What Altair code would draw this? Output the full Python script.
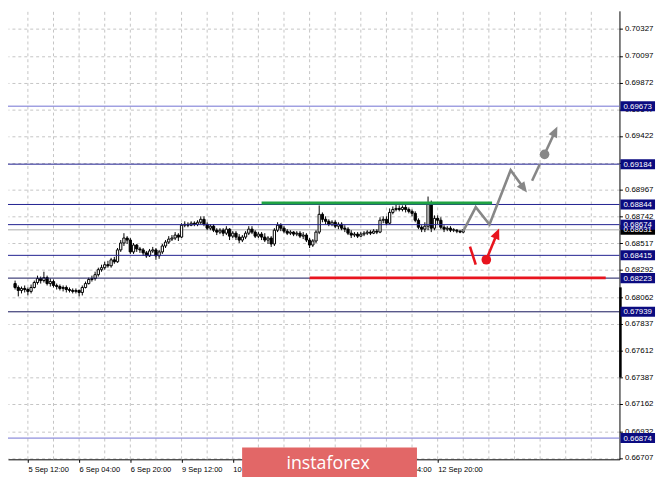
import json
import math
import altair as alt
import pandas as pd

# ---------------- data (AUD/USD H1, bar index = hours relative to 12 Sep 20:00) ----------------
bar_idx = list(range(-132, 9))

opens = [
    0.68177, 0.68144, 0.68119, 0.68136, 0.68127, 0.68111, 0.68144, 0.68186, 0.68219, 0.68202,
    0.68227, 0.68177, 0.68194, 0.68161, 0.68152, 0.68136, 0.68144, 0.68127, 0.68119, 0.68111,
    0.68119, 0.68102, 0.68144, 0.68177, 0.68211, 0.68219, 0.68252, 0.68294, 0.68311, 0.68336,
    0.68327, 0.68377, 0.68361, 0.68461, 0.68519, 0.68561, 0.68544, 0.68444, 0.68502, 0.68469,
    0.68461, 0.68436, 0.68411, 0.68452, 0.68461, 0.68411, 0.68444, 0.68494, 0.68527, 0.68552,
    0.68561, 0.68586, 0.68569, 0.68669, 0.68677, 0.68669, 0.68686, 0.68677, 0.68694, 0.68719,
    0.68677, 0.68644, 0.68661, 0.68627, 0.68611, 0.68627, 0.68602, 0.68636, 0.68577, 0.68602,
    0.68569, 0.68544, 0.68569, 0.68602, 0.68636, 0.68611, 0.68577, 0.68594, 0.68569, 0.68544,
    0.68561, 0.68511, 0.68627, 0.68669, 0.68644, 0.68619, 0.68602, 0.68611, 0.68594, 0.68602,
    0.68577, 0.68586, 0.68544, 0.68502, 0.68536, 0.68611, 0.68761, 0.68719, 0.68702, 0.68677,
    0.68694, 0.68661, 0.68677, 0.68644, 0.68636, 0.68602, 0.68586, 0.68594, 0.68577, 0.68594,
    0.68602, 0.68611, 0.68602, 0.68619, 0.68611, 0.68711, 0.68719, 0.68686, 0.68777, 0.68802,
    0.68811, 0.68802, 0.68819, 0.68802, 0.68786, 0.68769, 0.68711, 0.68652, 0.68636, 0.68661,
    0.68852, 0.68644, 0.68727, 0.68711, 0.68652, 0.68636, 0.68644, 0.68627, 0.68627, 0.68619,
    0.68611,
]
highs = [
    0.68202, 0.68161, 0.68152, 0.68161, 0.68144, 0.68169, 0.68202, 0.68244, 0.68236, 0.68277,
    0.68244, 0.68219, 0.68211, 0.68177, 0.68169, 0.68161, 0.68161, 0.68144, 0.68136, 0.68136,
    0.68127, 0.68161, 0.68194, 0.68227, 0.68244, 0.68277, 0.68311, 0.68336, 0.68361, 0.68369,
    0.68394, 0.68402, 0.68477, 0.68544, 0.68602, 0.68577, 0.68561, 0.68519, 0.68511, 0.68486,
    0.68477, 0.68452, 0.68469, 0.68486, 0.68477, 0.68461, 0.68511, 0.68544, 0.68577, 0.68586,
    0.68611, 0.68602, 0.68686, 0.68702, 0.68694, 0.68702, 0.68702, 0.68711, 0.68744, 0.68744,
    0.68694, 0.68677, 0.68677, 0.68644, 0.68644, 0.68644, 0.68661, 0.68644, 0.68619, 0.68619,
    0.68594, 0.68586, 0.68619, 0.68661, 0.68661, 0.68627, 0.68611, 0.68611, 0.68602, 0.68577,
    0.68577, 0.68644, 0.68694, 0.68686, 0.68661, 0.68636, 0.68627, 0.68619, 0.68619, 0.68619,
    0.68611, 0.68602, 0.68561, 0.68552, 0.68627, 0.68836, 0.68777, 0.68744, 0.68719, 0.68711,
    0.68711, 0.68694, 0.68694, 0.68669, 0.68652, 0.68627, 0.68611, 0.68611, 0.68611, 0.68619,
    0.68627, 0.68627, 0.68636, 0.68636, 0.68736, 0.68744, 0.68744, 0.68811, 0.68827, 0.68844,
    0.68836, 0.68836, 0.68844, 0.68819, 0.68802, 0.68786, 0.68727, 0.68669, 0.68694, 0.68911,
    0.68877, 0.68752, 0.68752, 0.68736, 0.68669, 0.68661, 0.68661, 0.68644, 0.68636, 0.68627,
    0.68636,
]
lows = [
    0.68127, 0.68069, 0.68094, 0.68102, 0.68077, 0.68094, 0.68136, 0.68169, 0.68177, 0.68186,
    0.68161, 0.68152, 0.68144, 0.68127, 0.68119, 0.68111, 0.68102, 0.68102, 0.68094, 0.68094,
    0.68069, 0.68077, 0.68136, 0.68169, 0.68194, 0.68202, 0.68236, 0.68277, 0.68294, 0.68311,
    0.68311, 0.68344, 0.68352, 0.68444, 0.68494, 0.68511, 0.68427, 0.68427, 0.68444, 0.68436,
    0.68411, 0.68394, 0.68402, 0.68436, 0.68377, 0.68386, 0.68427, 0.68477, 0.68511, 0.68536,
    0.68544, 0.68536, 0.68561, 0.68652, 0.68652, 0.68661, 0.68661, 0.68661, 0.68677, 0.68661,
    0.68627, 0.68627, 0.68611, 0.68586, 0.68594, 0.68577, 0.68586, 0.68544, 0.68561, 0.68544,
    0.68519, 0.68527, 0.68552, 0.68586, 0.68594, 0.68561, 0.68561, 0.68544, 0.68527, 0.68511,
    0.68486, 0.68494, 0.68611, 0.68619, 0.68602, 0.68586, 0.68586, 0.68577, 0.68577, 0.68561,
    0.68552, 0.68527, 0.68477, 0.68486, 0.68519, 0.68594, 0.68694, 0.68677, 0.68661, 0.68661,
    0.68644, 0.68636, 0.68627, 0.68611, 0.68586, 0.68561, 0.68569, 0.68561, 0.68569, 0.68577,
    0.68586, 0.68586, 0.68594, 0.68594, 0.68602, 0.68686, 0.68669, 0.68677, 0.68761, 0.68786,
    0.68786, 0.68786, 0.68777, 0.68769, 0.68744, 0.68694, 0.68636, 0.68611, 0.68611, 0.68627,
    0.68611, 0.68627, 0.68677, 0.68636, 0.68611, 0.68619, 0.68611, 0.68611, 0.68602, 0.68602,
    0.68602,
]
closes = [
    0.68144, 0.68119, 0.68136, 0.68127, 0.68111, 0.68144, 0.68186, 0.68219, 0.68202, 0.68227,
    0.68177, 0.68194, 0.68161, 0.68152, 0.68136, 0.68144, 0.68127, 0.68119, 0.68111, 0.68119,
    0.68102, 0.68144, 0.68177, 0.68211, 0.68219, 0.68252, 0.68294, 0.68311, 0.68336, 0.68327,
    0.68377, 0.68361, 0.68461, 0.68519, 0.68561, 0.68544, 0.68444, 0.68502, 0.68469, 0.68461,
    0.68436, 0.68411, 0.68452, 0.68461, 0.68411, 0.68444, 0.68494, 0.68527, 0.68552, 0.68561,
    0.68586, 0.68569, 0.68669, 0.68677, 0.68669, 0.68686, 0.68677, 0.68694, 0.68719, 0.68677,
    0.68644, 0.68661, 0.68627, 0.68611, 0.68627, 0.68602, 0.68636, 0.68577, 0.68602, 0.68569,
    0.68544, 0.68569, 0.68602, 0.68636, 0.68611, 0.68577, 0.68594, 0.68569, 0.68544, 0.68561,
    0.68511, 0.68627, 0.68669, 0.68644, 0.68619, 0.68602, 0.68611, 0.68594, 0.68602, 0.68577,
    0.68586, 0.68544, 0.68502, 0.68536, 0.68611, 0.68761, 0.68719, 0.68702, 0.68677, 0.68694,
    0.68661, 0.68677, 0.68644, 0.68636, 0.68602, 0.68586, 0.68594, 0.68577, 0.68594, 0.68602,
    0.68611, 0.68602, 0.68619, 0.68611, 0.68711, 0.68719, 0.68686, 0.68777, 0.68802, 0.68811,
    0.68802, 0.68819, 0.68802, 0.68786, 0.68769, 0.68711, 0.68652, 0.68636, 0.68661, 0.68852,
    0.68644, 0.68727, 0.68711, 0.68652, 0.68636, 0.68644, 0.68627, 0.68631, 0.68619, 0.68611,
    0.68631,
]

# axis ticks / labels ("" = label hidden under the watermark / a price box in the reference)
x_tick_idx = [-128, -112, -96, -80, -64, -48, -32, -16, 0]
x_tick_labels = ["5 Sep 12:00", "6 Sep 04:00", "6 Sep 20:00", "9 Sep 12:00", "10 Sep 04:00",
                 "", "", "12 Sep 04:00", "12 Sep 20:00"]
x_grid_idx = [-128, -120, -112, -104, -96, -88, -80, -72, -64, -56, -48, -40, -32, -24, -16,
              -8, 0, 8, 16, 24, 32, 40, 48]
y_grid_vals = [0.70327, 0.70097, 0.69872, 0.69647, 0.69422, 0.69197, 0.68967, 0.68742, 0.68517,
               0.68292, 0.68062, 0.67837, 0.67612, 0.67387, 0.67162, 0.66932, 0.66707]
y_hidden_labels = [0.69197]

# horizontal levels
level_prices = [0.69673, 0.69184, 0.68844, 0.68674, 0.68415, 0.68223, 0.67939, 0.66874]
level_colors = ["#7070d2", "#1f1f8f", "#1f1f8f", "#1f1f8f", "#1f1f8f", "#14145a", "#14145a", "#7070d2"]
current_price = 0.68631

# analyst marks
green_i = [-55, 17]
green_p = 0.68857
red_i = [-40, 52.5]
red_p = 0.68225

grey_path_i = [8, 11.9, 16.2, 22.8, 27.9]
grey_path_p = [0.68620, 0.68822, 0.68675, 0.69133, 0.68944]
grey_seg_i = [29.5, 31.9]
grey_seg_p = [0.69044, 0.69183]
grey_dot = (33.4, 0.69267)
grey_tip2 = (37.4, 0.69502)

red_slash_i = [10.1, 11.9]
red_slash_p = [0.68488, 0.68336]
red_dot = (15.2, 0.68378)
red_tip = (19.2, 0.68642)

right_bar = (0.68145, 0.67387)

# ---------------- layout ----------------
W, H = 619, 454
X_DOM = [-132.67, 55.25]
Y_DOM = [0.666948, 0.704769]
KX = W / (X_DOM[1] - X_DOM[0])
KY = H / (Y_DOM[1] - Y_DOM[0])

FONT = "Liberation Sans"
GREY = "#878787"
RED = "#e8141e"

xs = alt.Scale(domain=X_DOM, nice=False, zero=False)
ys = alt.Scale(domain=Y_DOM, nice=False, zero=False)

X_AXIS = alt.Axis(orient="bottom", values=x_tick_idx, grid=False, title=None,
                  labelExpr=f"{json.dumps(x_tick_labels)}[indexof({json.dumps(x_tick_idx)}, datum.value)]",
                  labelAlign="left", labelBaseline="top", labelPadding=3, labelFont=FONT,
                  labelFontSize=7.6, labelColor="#000", domainColor="#000", tickColor="#000",
                  tickSize=3, labelOverlap=False, labelFlush=False, labelBound=False)
Y_AXIS = alt.Axis(orient="right", values=y_grid_vals, grid=True, gridDash=[3, 3],
                  labelExpr=f"indexof({json.dumps(y_hidden_labels)}, datum.value) >= 0 ? '' : format(datum.value, '.5f')",
                  gridColor="#c4c4c4", gridWidth=1, title=None, labelFont=FONT, labelFontSize=8,
                  labelColor="#000", domainColor="#000", tickColor="#000", tickSize=3,
                  labelPadding=2, labelOverlap=False, labelBound=False, labelFlush=False)


def X(f, **kw):
    return alt.X(f, type="quantitative", scale=xs, axis=X_AXIS, title=None, **kw)


def Y(f, **kw):
    return alt.Y(f, type="quantitative", scale=ys, axis=Y_AXIS, title=None, **kw)


def arrow(x0, p0, x1, p1, back=6):
    dx = (x1 - x0) * KX
    dy = -(p1 - p0) * KY
    ln = math.hypot(dx, dy)
    ux, uy = dx / ln, dy / ln
    ang = math.degrees(math.atan2(dx, -dy)) % 360
    end_x = x1 - back * ux / KX
    end_p = p1 + back * uy / KY
    return ang, end_x, end_p


candles = pd.DataFrame({"i": bar_idx, "o": opens, "h": highs, "l": lows, "c": closes})

vgrid = alt.Chart(pd.DataFrame({"i": x_grid_idx, "p0": [Y_DOM[0]] * len(x_grid_idx),
                                "p1": [Y_DOM[1]] * len(x_grid_idx)})).mark_rule(
    color="#c4c4c4", strokeDash=[3, 3], strokeWidth=1
).encode(x=X("i"), y=Y("p0"), y2="p1")

cur_line = alt.Chart(pd.DataFrame({"p": [current_price]})).mark_rule(
    color="#c8c8c8", strokeWidth=1.5).encode(y=Y("p"))

wicks = alt.Chart(candles).mark_rule(color="#000", strokeWidth=1).encode(
    x=X("i"), y=Y("l"), y2="h")
bodies = alt.Chart(candles).mark_bar(size=2.3, stroke="#000", strokeWidth=1).encode(
    x=X("i"), y=Y("o"), y2="c",
    color=alt.condition("datum.c >= datum.o", alt.value("#ffffff"), alt.value("#000000")))

levels = alt.Chart(pd.DataFrame({"p": level_prices, "col": level_colors})).mark_rule(
    strokeWidth=1).encode(y=Y("p"), color=alt.Color("col:N", scale=None))

green = alt.Chart(pd.DataFrame({"a": [green_i[0]], "b": [green_i[1]], "p": [green_p]})).mark_rule(
    color="#1fa343", strokeWidth=3).encode(x=X("a"), x2="b", y=Y("p"))
redl = alt.Chart(pd.DataFrame({"a": [red_i[0]], "b": [red_i[1]], "p": [red_p]})).mark_rule(
    color=RED, strokeWidth=3).encode(x=X("a"), x2="b", y=Y("p"))

ARROW = "M0,0 L1,2.3 L-1,2.3 Z"

a1, ex1, ep1 = arrow(grey_path_i[-2], grey_path_p[-2], grey_path_i[-1], grey_path_p[-1])
gp_i = grey_path_i[:-1] + [ex1]
gp_p = grey_path_p[:-1] + [ep1]
a2, ex2, ep2 = arrow(grey_dot[0], grey_dot[1], grey_tip2[0], grey_tip2[1])
a3, ex3, ep3 = arrow(red_dot[0], red_dot[1], red_tip[0], red_tip[1])

lines_df = pd.DataFrame({
    "i": gp_i + grey_seg_i + [grey_dot[0], ex2] + red_slash_i + [red_dot[0], ex3],
    "p": gp_p + grey_seg_p + [grey_dot[1], ep2] + red_slash_p + [red_dot[1], ep3],
    "g": ["g1"] * len(gp_i) + ["g2"] * 2 + ["g3"] * 2 + ["r1"] * 2 + ["r2"] * 2,
    "col": [GREY] * (len(gp_i) + 4) + [RED] * 4,
    "order": list(range(len(gp_i) + 8)),
})
path_lines = alt.Chart(lines_df).mark_line(strokeWidth=2.6, strokeCap="butt", strokeJoin="miter").encode(
    x=X("i"), y=Y("p"), detail="g:N", order="order:Q", color=alt.Color("col:N", scale=None))

heads = alt.Chart(pd.DataFrame({
    "i": [grey_path_i[-1], grey_tip2[0], red_tip[0]],
    "p": [grey_path_p[-1], grey_tip2[1], red_tip[1]],
    "ang": [a1, a2, a3],
    "col": [GREY, GREY, RED],
})).mark_point(shape=ARROW, filled=True, size=90, opacity=1, strokeWidth=0).encode(
    x=X("i"), y=Y("p"), angle=alt.Angle("ang:Q", scale=None), color=alt.Color("col:N", scale=None))

dots = alt.Chart(pd.DataFrame({
    "i": [grey_dot[0], red_dot[0]], "p": [grey_dot[1], red_dot[1]], "col": [GREY, RED],
})).mark_point(shape="circle", filled=True, size=95, opacity=1, strokeWidth=0).encode(
    x=X("i"), y=Y("p"), color=alt.Color("col:N", scale=None))

rbar = alt.Chart(pd.DataFrame({"a": [right_bar[0]], "b": [right_bar[1]]})).mark_rule(
    color="#000", strokeWidth=2.5).encode(x=alt.value(W + 1), y=Y("a"), y2="b")

# price boxes on the right axis
BOX = "M-1,-0.29 L1,-0.29 L1,0.29 L-1,0.29 Z"
box_vals = [current_price] + level_prices
box_cols = ["#000000"] + ["#0b0b80"] * len(level_prices)
box_df = pd.DataFrame({"p": box_vals, "col": box_cols, "t": [f"{v:.5f}" for v in box_vals],
                       "order": list(range(len(box_vals)))})
boxes = alt.Chart(box_df).mark_point(shape=BOX, filled=True, size=35 * 35, opacity=1, strokeWidth=0).encode(
    x=alt.value(W + 18.5), y=Y("p"), color=alt.Color("col:N", scale=None), order="order:Q")
box_text = alt.Chart(box_df).mark_text(font=FONT, fontSize=8, color="#ffffff", align="center",
                                       baseline="middle", dy=0.5).encode(
    x=alt.value(W + 18.5), y=Y("p"), text="t:N", order="order:Q")

# watermark
logo_df = pd.DataFrame({"t": ["instaforex"]})
logo_rect = alt.Chart(logo_df).mark_rect(color="#e26767", opacity=1).encode(
    x=alt.value(237), x2=alt.value(414), y=alt.value(442), y2=alt.value(480))
logo_text = alt.Chart(logo_df).mark_text(font="Open Sans", fontSize=18, color="#ffffff",
                                         align="center", baseline="alphabetic").encode(
    x=alt.value(324), y=alt.value(464), text="t:N")

chart = alt.layer(
    vgrid, cur_line, wicks, bodies, levels, green, redl,
    path_lines, heads, dots, rbar, boxes, box_text, logo_rect, logo_text,
).properties(
    width=W, height=H,
    background="#ffffff",
    autosize=alt.AutoSizeParams(type="none"),
    padding={"left": 0, "top": 0, "right": 38, "bottom": 15},
).configure_view(stroke=None)

chart.save("out.html", embed_options={"renderer": "svg", "actions": False})
